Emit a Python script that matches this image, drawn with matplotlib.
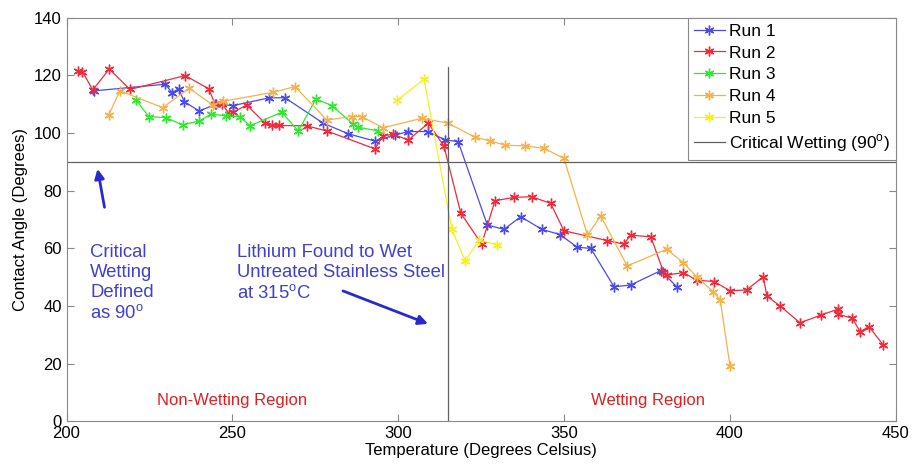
import matplotlib.pyplot as plt

plt.rcParams['font.family'] = ['Liberation Sans', 'DejaVu Sans']

# data
run1_t = [208.2, 229.8, 231.8, 233.8, 235.5, 240.0, 245.1, 250.2, 261.2, 265.9, 277.4, 285.0,
          293.0, 299.0, 303.1, 309.1, 314.1, 318.1, 326.9, 331.9, 337.0, 343.3, 348.8, 354.0,
          358.1, 365.1, 370.1, 379.2, 384.2]
run1_a = [114.6, 116.9, 114.0, 115.3, 110.9, 107.6, 110.0, 109.5, 112.2, 112.2, 103.4, 99.7,
          97.2, 99.3, 100.5, 100.5, 97.6, 97.0, 68.1, 66.6, 71.0, 66.6, 64.8, 60.4,
          60.0, 46.7, 47.3, 52.3, 46.5]

run2_t = [203.4, 204.8, 207.9, 212.9, 219.1, 235.8, 242.9, 244.8, 247.0, 249.1, 250.3, 254.3,
          259.9, 262.0, 264.0, 272.4, 278.5, 293.0, 295.5, 298.5, 303.1, 309.1, 313.8, 318.9,
          325.2, 329.2, 335.0, 340.3, 346.0, 350.0, 363.1, 368.1, 370.1, 376.2, 380.0, 381.2,
          386.0, 390.0, 395.3, 400.1, 405.1, 410.1, 411.2, 415.2, 421.2, 427.5, 432.6, 432.6,
          437.0, 439.3, 442.0, 446.3]
run2_a = [121.5, 121.3, 114.9, 122.2, 115.1, 119.9, 115.3, 109.9, 110.0, 106.5, 107.2, 109.7,
          103.4, 102.8, 102.6, 102.5, 100.7, 94.5, 99.1, 99.5, 97.6, 103.4, 95.5, 72.2,
          61.5, 76.5, 77.7, 77.9, 75.6, 66.1, 62.7, 61.5, 64.6, 64.0, 51.9, 50.8,
          51.6, 49.0, 48.5, 45.3, 45.6, 50.2, 43.5, 40.0, 34.2, 36.9, 38.9, 37.2,
          35.8, 31.1, 32.9, 26.5]

run3_t = [221.0, 224.8, 230.0, 235.0, 240.0, 243.6, 248.1, 252.3, 255.3, 264.9, 269.9, 275.2,
          280.0, 286.5, 288.0, 294.0]
run3_a = [111.4, 105.7, 105.3, 102.8, 104.2, 106.5, 106.0, 105.6, 102.5, 107.2, 100.7, 111.8,
          109.5, 103.0, 102.0, 100.7]

run4_t = [212.7, 216.1, 229.0, 237.0, 244.1, 247.1, 262.4, 268.9, 278.5, 286.0, 289.0, 295.5,
          307.1, 315.1, 323.2, 327.7, 332.2, 338.3, 344.0, 350.0, 357.1, 361.1, 369.1, 381.0,
          386.0, 390.0, 395.0, 397.1, 400.1]
run4_a = [106.2, 114.6, 108.8, 115.5, 109.7, 111.0, 114.1, 116.1, 104.5, 105.7, 105.7, 101.8,
          105.1, 103.4, 98.5, 97.3, 95.8, 95.5, 94.7, 91.2, 64.6, 71.2, 53.9, 59.7,
          55.0, 50.2, 45.0, 42.2, 19.1]

run5_t = [299.6, 307.8, 316.2, 320.2, 324.5, 329.9]
run5_a = [111.3, 118.6, 66.6, 55.7, 62.9, 61.2]

runs = [(run1_t, run1_a, '#4a4ae8', 'Run 1'),
        (run2_t, run2_a, '#f02a3a', 'Run 2'),
        (run3_t, run3_a, '#2ee82e', 'Run 3'),
        (run4_t, run4_a, '#f5b24a', 'Run 4'),
        (run5_t, run5_a, '#f2f222', 'Run 5')]

critical_angle = 90
wet_temp = 315

fig = plt.figure(figsize=(9.14, 4.68), dpi=100)
ax = fig.add_axes([0.0728, 0.0994, 0.9070, 0.8630])

# matlab style asterisk marker
star = (6, 2, 0)
for t, a, c, lab in runs:
    ax.plot(t, a, '-', marker=star, color=c, lw=0.9, ms=7, mew=1.0, label=lab)

ax.plot([200, 450], [critical_angle, critical_angle], color='#606060', lw=0.9,
        label='Critical Wetting (90$^{\\mathregular{o}}$)')
ax.plot([wet_temp, wet_temp], [0, 123], color='#606060', lw=0.9)

ax.set_xlim(200, 450)
ax.set_ylim(0, 140)
ax.set_xticks([200, 250, 300, 350, 400, 450])
ax.set_yticks([0, 20, 40, 60, 80, 100, 120, 140])
ax.tick_params(direction='in', length=5, labelsize=12, top=True, right=True, width=0.8,
               color='#888888')
for s in ax.spines.values():
    s.set_color('#888888')
ax.set_xlabel('Temperature (Degrees Celsius)', fontsize=12, labelpad=1)
ax.set_ylabel('Contact Angle (Degrees)', fontsize=12, labelpad=4)

leg = ax.legend(loc='upper right', fontsize=12.5, borderaxespad=0, handlelength=1.8,
                labelspacing=0.38, handletextpad=0.2, borderpad=0.35, fancybox=False,
                framealpha=1)
leg.get_frame().set_edgecolor('#888888')
leg.get_frame().set_linewidth(0.8)

blue_txt = '#4040cc'
ax.text(207.2, 61.5, 'Critical\nWetting\nDefined\nas 90$^{\\mathregular{o}}$', color=blue_txt,
        fontsize=13.3, va='top', ha='left', linespacing=1.22)
ax.annotate('', xy=(209.2, 88.5), xytext=(211.6, 73.3),
            arrowprops=dict(arrowstyle='-|>', color='#2a2acc', lw=2, mutation_scale=14))
ax.text(251.4, 61.5, 'Lithium Found to Wet\nUntreated Stainless Steel\nat 315$^{\\mathregular{o}}$C',
        color=blue_txt, fontsize=13.3, va='top', ha='left', linespacing=1.22)
ax.annotate('', xy=(309.8, 33.5), xytext=(282.6, 45.6),
            arrowprops=dict(arrowstyle='-|>', color='#2a2acc', lw=2, mutation_scale=14))

ax.text(250, 4.5, 'Non-Wetting Region', color='#e02020', fontsize=12, ha='center', va='bottom')
ax.text(375.4, 4.5, 'Wetting Region', color='#e02020', fontsize=12, ha='center', va='bottom')

fig.savefig('out.png', dpi=100)
